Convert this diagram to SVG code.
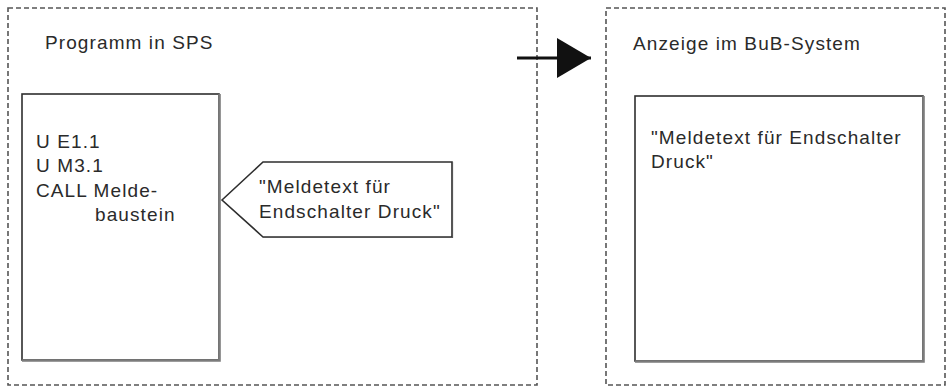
<svg xmlns="http://www.w3.org/2000/svg" width="948" height="387" viewBox="0 0 948 387">
  <style>
    .frame { fill: none; stroke: #555; stroke-width: 1.6; stroke-dasharray: 5 3; }
    .box { fill: #fff; stroke: #2e2e2e; stroke-width: 1.6; }
    .shadow { fill: none; stroke: #7c7c7c; stroke-width: 2.6; }
    .t { font-family: "Liberation Sans", Arial, sans-serif; font-size: 19px; letter-spacing: 1.1px; fill: #2a2a2a; }
  </style>
  <defs>
    <marker id="arrowHead" markerUnits="userSpaceOnUse" markerWidth="36" markerHeight="42" refX="34" refY="20" orient="auto">
      <polygon points="0,0 34,20 0,40" fill="#111"/>
    </marker>
  </defs>
  <rect width="948" height="387" fill="#fff"/>

  <g id="frame-sps">
    <rect class="frame" x="8" y="8" width="529" height="377"/>
    <text class="t" x="45" y="49">Programm in SPS</text>
  </g>

  <g id="frame-bub">
    <rect class="frame" x="606" y="8" width="339" height="377"/>
    <text class="t" x="633" y="50">Anzeige im BuB-System</text>
  </g>

  <g id="program-block">
    <rect class="box" x="22" y="94" width="197" height="266"/>
    <polyline class="shadow" points="219.5,94 219.5,360.5 22,360.5"/>
    <text class="t" x="36" y="148">U E1.1</text>
    <text class="t" x="36" y="172">U M3.1</text>
    <text class="t" x="36" y="197">CALL Melde-</text>
    <text class="t" x="95" y="221">baustein</text>
  </g>

  <g id="message-callout">
    <polygon class="box" points="222,200 263,162 452,162 452,237 263,237"/>
    <polyline fill="none" stroke="#555" stroke-width="1.2" points="452.5,162 452.5,237.5 263,237.5"/>
    <text class="t" x="259" y="193">"Meldetext für</text>
    <text class="t" x="259" y="218">Endschalter Druck"</text>
  </g>

  <g id="display-block">
    <rect class="box" x="635" y="96" width="288" height="265"/>
    <polyline class="shadow" points="923.5,96 923.5,361.5 635,361.5"/>
    <text class="t" x="651" y="144">"Meldetext für Endschalter</text>
    <text class="t" x="651" y="168">Druck"</text>
  </g>

  <g id="connectors">
    <line x1="517" y1="58" x2="591" y2="58" stroke="#111" stroke-width="3" marker-end="url(#arrowHead)"/>
  </g>
</svg>
